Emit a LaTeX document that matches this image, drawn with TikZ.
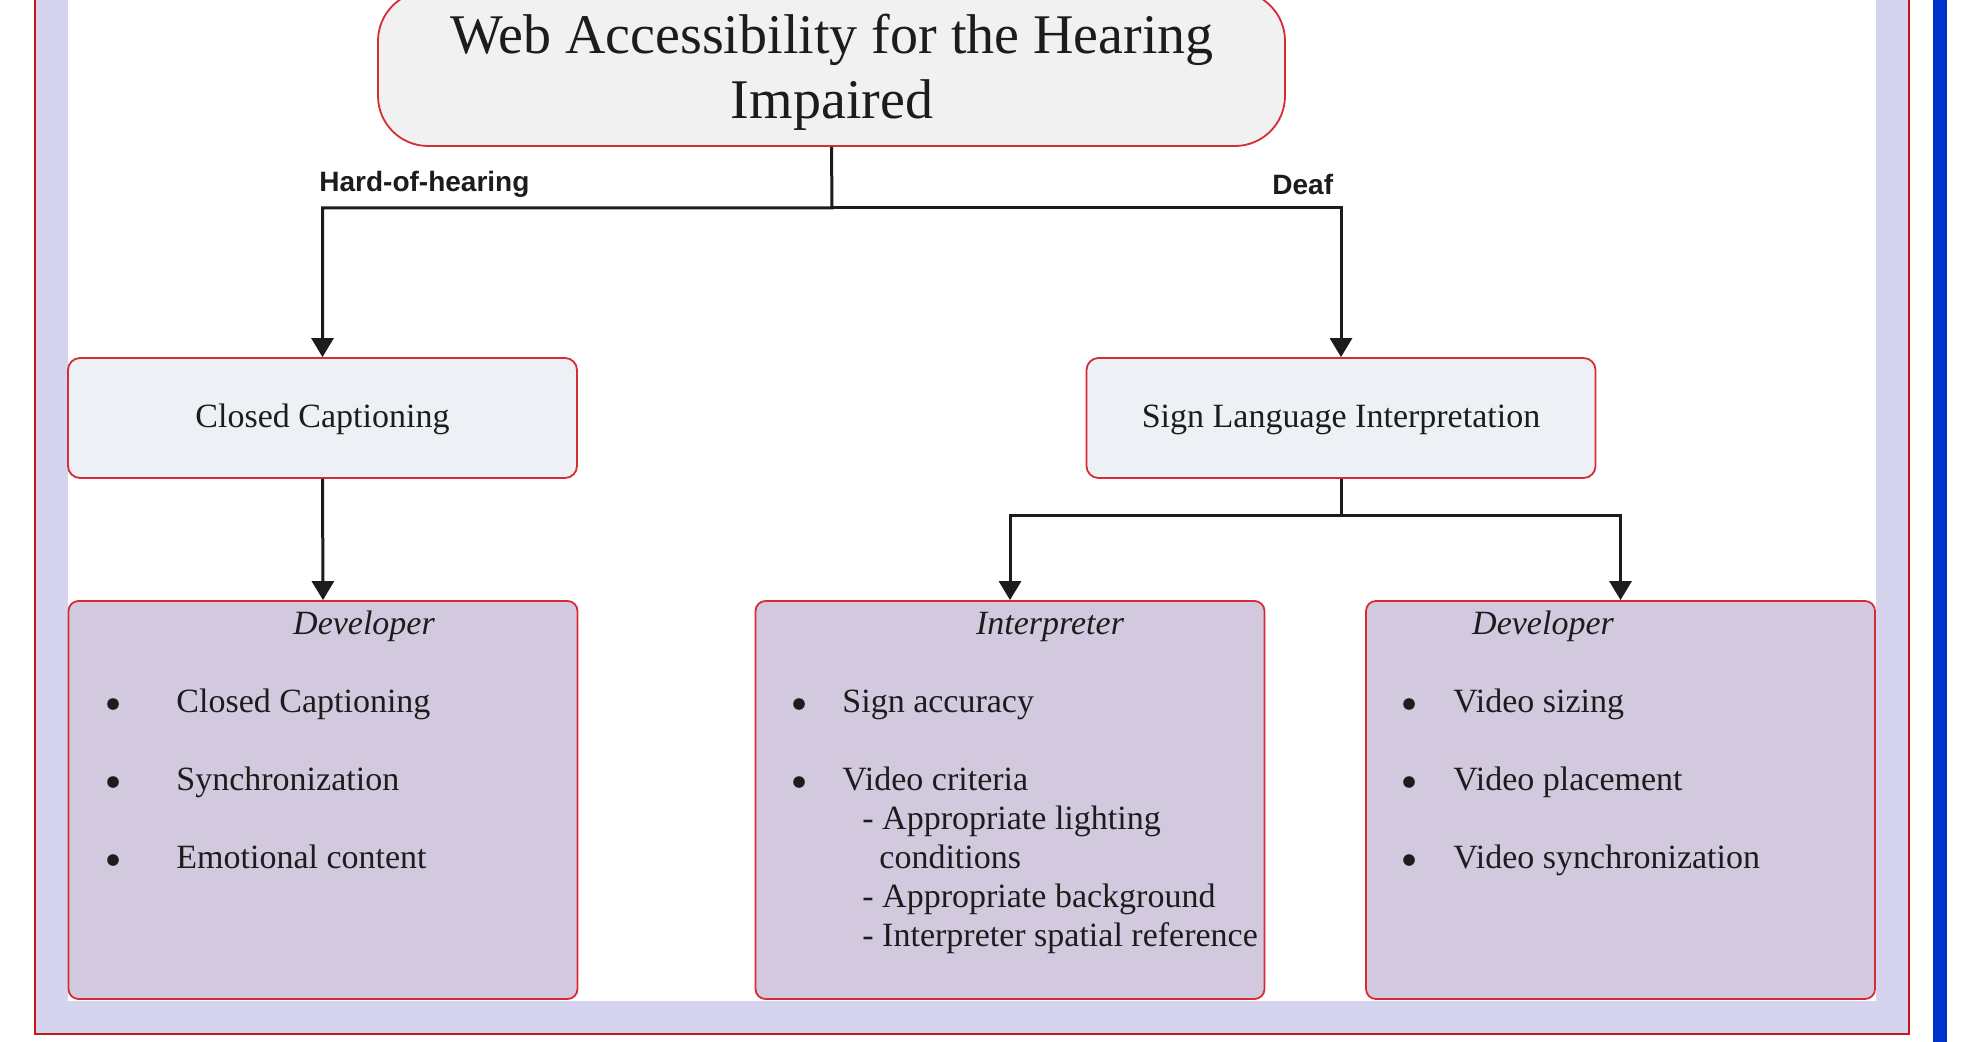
\documentclass[tikz,border=0pt]{standalone}
\usepackage{fontspec}
\setmainfont{Liberation Serif}
\newfontfamily\labelfont{Liberation Sans}
\usetikzlibrary{arrows.meta}

\definecolor{bandlav}{RGB}{212,212,239}
\definecolor{framered}{RGB}{196,24,30}
\definecolor{edgered}{RGB}{214,44,52}
\definecolor{barblue}{RGB}{0,51,204}
\definecolor{titlefill}{RGB}{241,241,241}
\definecolor{midfill}{RGB}{237,240,245}
\definecolor{listfill}{RGB}{211,201,223}
\definecolor{ink}{RGB}{28,28,28}

\begin{document}
\begin{tikzpicture}[x=0.5pt,y=-0.5pt,
  titlebox/.style={draw=edgered, line width=0.9pt, fill=titlefill,
    rounded corners=25pt, minimum width=453.5pt, minimum height=77.5pt, inner sep=0pt},
  titletext/.style={anchor=base, inner sep=0pt, text=ink,
    font=\fontsize{28}{32}\selectfont},
  midbox/.style={draw=edgered, line width=0.9pt, fill=midfill,
    rounded corners=6pt, minimum width=254.5pt, minimum height=60pt, inner sep=0pt},
  boxtext/.style={anchor=base, inner sep=0pt, text=ink,
    font=\fontsize{17}{19.5}\selectfont},
  listbox/.style={draw=edgered, line width=0.9pt, fill=listfill,
    rounded corners=5pt, minimum width=254.5pt, minimum height=199pt, inner sep=0pt},
  head/.style={anchor=base, inner sep=0pt, text=ink,
    font=\fontsize{17}{19.5}\selectfont\itshape},
  item/.style={anchor=base west, inner sep=0pt, text=ink,
    font=\fontsize{17}{19.5}\selectfont},
  branch/.style={anchor=base west, inner sep=0pt, text=ink,
    font=\labelfont\bfseries\fontsize{14}{16}\selectfont},
  conn/.style={draw=ink, line width=1.5pt},
  arrowconn/.style={conn, -{Triangle[width=11pt,length=9.5pt]}},
]
\useasboundingbox (0,0) rectangle (1963,1042);
\clip (0,0) rectangle (1963,1042);

% page frame: lavender band with red outline, white canvas, blue side bar
\fill[white] (0,0) rectangle (1963,1042);
\fill[bandlav] (35,-20) rectangle (1909,1034);
\draw[framered, line width=1.1pt] (35,-20) rectangle (1909,1034);
\fill[white] (68,-20) rectangle (1876,1001);
\fill[barblue] (1933,-5) rectangle (1947,1047);

% title
\node[titlebox] (title) at (831.5,68.5) {};
\node[titletext] (t1) at (832,54) {Web Accessibility for the Hearing};
\node[titletext] (t2) at (832,119) {Impaired};

% second level
\node[midbox] (cc)  at (322.5,418) {};
\node[midbox] (sli) at (1341,418) {};
\node[boxtext] (cct)  at (322.5,428) {Closed Captioning};
\node[boxtext] (slit) at (1341,428) {Sign Language Interpretation};

% third level
\node[listbox] (dev1)   at (323,800) {};
\node[listbox] (interp) at (1010,800) {};
\node[listbox] (dev2)   at (1620.5,800) {};

% connectors
\coordinate (split1) at (832,208);
\coordinate (split2) at (1341,515);
\draw[arrowconn] (title.south) -- (split1) -| (cc.north);
\draw[arrowconn] (split1) -| (sli.north);
\draw[arrowconn] (cc.south) -- (dev1.north);
\draw[conn] (sli.south) -- (split2);
\draw[arrowconn] (split2) -| (interp.north);
\draw[arrowconn] (split2) -| (dev2.north);

% branch labels
\node[branch] (hoh)  at (319,192) {Hard-of-hearing};
\node[branch] (deaf) at (1272,195) {Deaf};

% developer list (captioning)
\node[head] (h1) at (364,634) {Developer};
\fill[ink] (113,704) circle (2.9pt);
\fill[ink] (113,782) circle (2.9pt);
\fill[ink] (113,860) circle (2.9pt);
\node[item] (a1) at (176,712) {Closed Captioning};
\node[item] (a2) at (176,790) {Synchronization};
\node[item] (a3) at (176,868) {Emotional content};

% interpreter list
\node[head] (h2) at (1050,634) {Interpreter};
\fill[ink] (799,704) circle (2.9pt);
\fill[ink] (799,782) circle (2.9pt);
\node[item] (b1) at (842,712) {Sign accuracy};
\node[item] (b2) at (842,790) {Video criteria};
\node[item] (b3) at (862,829) {- Appropriate lighting};
\node[item] (b4) at (879,868) {conditions};
\node[item] (b5) at (862,907) {- Appropriate background};
\node[item] (b6) at (862,946) {- Interpreter spatial reference};

% developer list (signing video)
\node[head] (h3) at (1543,634) {Developer};
\fill[ink] (1409,704) circle (2.9pt);
\fill[ink] (1409,782) circle (2.9pt);
\fill[ink] (1409,860) circle (2.9pt);
\node[item] (c1) at (1453,712) {Video sizing};
\node[item] (c2) at (1453,790) {Video placement};
\node[item] (c3) at (1453,868) {Video synchronization};
\end{tikzpicture}
\end{document}
